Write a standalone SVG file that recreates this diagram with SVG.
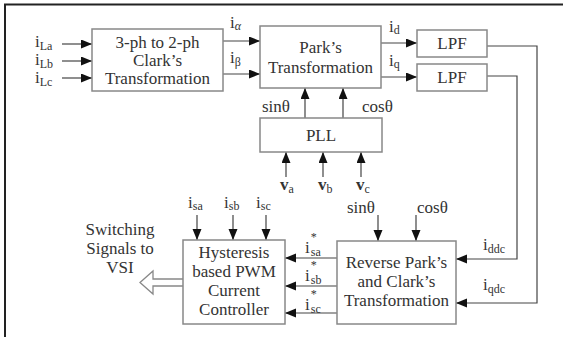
<svg xmlns="http://www.w3.org/2000/svg" width="563" height="337" viewBox="0 0 563 337">
<defs>
<marker id="ah" markerUnits="userSpaceOnUse" markerWidth="12" markerHeight="10" refX="11" refY="4.5" orient="auto">
<path d="M0,0 L11,4.5 L0,9 z" fill="#111"/>
</marker>
<style>
text{font-family:"Liberation Serif","Times New Roman",serif;fill:#333;}
.t{font-size:17px;text-anchor:middle;}
.l{font-size:17px;}
.s{font-size:12px;}
.box{fill:#fff;stroke:#888;stroke-width:1.5;}
.a{fill:none;stroke:#444;stroke-width:1.2;marker-end:url(#ah);}
</style>
</defs>
<rect width="563" height="337" fill="#fff"/>
<path d="M5,337 V4.5 H563" fill="none" stroke="#222" stroke-width="2"/>

<g id="connectors">
<path class="a" d="M62,44 H92"/>
<path class="a" d="M62,61 H92"/>
<path class="a" d="M62,78 H92"/>
<path class="a" d="M223,41 H260"/>
<path class="a" d="M223,74 H260"/>
<path class="a" d="M381,43 H417"/>
<path class="a" d="M381,77 H417"/>
<path class="a" d="M305,118 V88"/>
<path class="a" d="M343,118 V88"/>
<path class="a" d="M286,177 V152"/>
<path class="a" d="M323,177 V152"/>
<path class="a" d="M361,177 V152"/>
<path class="a" d="M487,46 H537 V303 H456"/>
<path class="a" d="M487,76 H517 V259 H456"/>
<path class="a" d="M378,215 V241"/>
<path class="a" d="M416,215 V241"/>
<path class="a" d="M197,215 V240"/>
<path class="a" d="M233,215 V240"/>
<path class="a" d="M266,215 V240"/>
<path class="a" d="M337,258 H285"/>
<path class="a" d="M337,286 H285"/>
<path class="a" d="M337,313 H285"/>
<path d="M183,279 H153 V271 L140,282.5 L153,294 V286 H183" fill="#fff" stroke="#888" stroke-width="1.3"/>
</g>

<g id="labels">
<text class="l" x="35" y="47">i<tspan class="s" dy="3">La</tspan></text>
<text class="l" x="35" y="65">i<tspan class="s" dy="3">Lb</tspan></text>
<text class="l" x="35" y="83">i<tspan class="s" dy="3">Lc</tspan></text>
<text class="l" x="230" y="28">i<tspan class="s" dy="2" font-style="italic">α</tspan></text>
<text class="l" x="230" y="63">i<tspan class="s" dy="3">β</tspan></text>
<text class="l" x="389" y="32">i<tspan class="s" dy="2">d</tspan></text>
<text class="l" x="389" y="66">i<tspan class="s" dy="2">q</tspan></text>
<text class="l" x="262" y="112">sinθ</text>
<text class="l" x="362" y="112">cosθ</text>
<text class="l" x="280" y="190" font-weight="bold">v<tspan class="s" dy="3" font-weight="normal">a</tspan></text>
<text class="l" x="318" y="190" font-weight="bold">v<tspan class="s" dy="3" font-weight="normal">b</tspan></text>
<text class="l" x="356" y="190" font-weight="bold">v<tspan class="s" dy="3" font-weight="normal">c</tspan></text>
<text class="l" x="188" y="208">i<tspan class="s" dy="2">sa</tspan></text>
<text class="l" x="224" y="208">i<tspan class="s" dy="2">sb</tspan></text>
<text class="l" x="256" y="208">i<tspan class="s" dy="2">sc</tspan></text>
<text class="l" x="347" y="213">sinθ</text>
<text class="l" x="417" y="213">cosθ</text>
<text class="l" x="483" y="250">i<tspan class="s" dy="3">ddc</tspan></text>
<text class="l" x="483" y="290">i<tspan class="s" dy="3">qdc</tspan></text>
<text class="l" x="305" y="253">i<tspan class="s" dx="1" dy="-12">*</tspan><tspan class="s" dx="-6" dy="15">sa</tspan></text>
<text class="l" x="305" y="281">i<tspan class="s" dx="1" dy="-12">*</tspan><tspan class="s" dx="-6" dy="15">sb</tspan></text>
<text class="l" x="305" y="310">i<tspan class="s" dx="1" dy="-12">*</tspan><tspan class="s" dx="-6" dy="15">sc</tspan></text>
<text class="t" x="120" y="235">Switching</text>
<text class="t" x="120" y="254">Signals to</text>
<text class="t" x="120" y="273">VSI</text>
</g>

<g id="clark">
<rect class="box" x="92" y="29" width="131" height="62"/>
<text class="t" x="157.5" y="48">3-ph to 2-ph</text>
<text class="t" x="157.5" y="66">Clark’s</text>
<text class="t" x="157.5" y="84">Transformation</text>
</g>
<g id="park">
<rect class="box" x="260" y="26" width="121" height="62"/>
<text class="t" x="320.5" y="53">Park’s</text>
<text class="t" x="320.5" y="73">Transformation</text>
</g>
<g id="lpf1">
<rect class="box" x="417" y="30" width="70" height="27"/>
<text class="t" x="452" y="49">LPF</text>
</g>
<g id="lpf2">
<rect class="box" x="417" y="64" width="70" height="27"/>
<text class="t" x="452" y="83">LPF</text>
</g>
<g id="pll">
<rect class="box" x="260" y="118" width="122" height="34"/>
<text class="t" x="321" y="141">PLL</text>
</g>
<g id="reverse">
<rect class="box" x="337" y="241" width="119" height="83"/>
<text class="t" x="396.5" y="268">Reverse Park’s</text>
<text class="t" x="396.5" y="287">and Clark’s</text>
<text class="t" x="396.5" y="306">Transformation</text>
</g>
<g id="hysteresis">
<rect class="box" x="183" y="240" width="102" height="84"/>
<text class="t" x="234" y="258">Hysteresis</text>
<text class="t" x="234" y="277">based PWM</text>
<text class="t" x="234" y="296">Current</text>
<text class="t" x="234" y="315">Controller</text>
</g>
</svg>
